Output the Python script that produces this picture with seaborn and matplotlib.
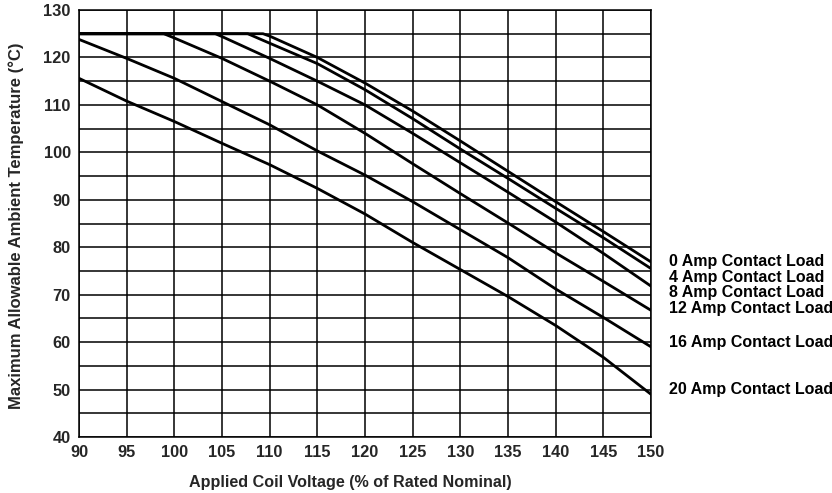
import matplotlib
matplotlib.use("Agg")
import matplotlib.pyplot as plt
import matplotlib.transforms as mtransforms
import pandas as pd
import seaborn as sns

# ---------------- data ----------------
loads = ["0 Amp Contact Load", "4 Amp Contact Load", "8 Amp Contact Load",
         "12 Amp Contact Load", "16 Amp Contact Load", "20 Amp Contact Load"]

volt_0A = [90, 109.3, 110, 115, 120, 125, 130, 135, 140, 145, 150]
temp_0A = [125, 125, 124.5, 120.0, 114.6, 108.7, 102.4, 96.0, 89.6, 83.3, 76.9]

volt_4A = [90, 107.7, 110, 115, 120, 125, 130, 135, 140, 145, 150]
temp_4A = [125, 125, 123.0, 118.7, 113.2, 107.1, 100.7, 94.5, 88.2, 82.0, 75.5]

volt_8A = [90, 104.3, 105, 110, 115, 120, 125, 130, 135, 140, 145, 150]
temp_8A = [125, 125, 124.4, 119.8, 115.0, 110.0, 104.0, 97.8, 91.6, 85.3, 78.7, 71.8]

volt_12A = [90, 98.9, 100, 105, 110, 115, 120, 125, 130, 135, 140, 145, 150]
temp_12A = [125, 125, 124.1, 119.8, 115.0, 110.0, 104.0, 97.6, 91.3, 85.1, 78.8, 72.8, 66.7]

volt_16A = [90, 95, 100, 105, 110, 115, 120, 125, 130, 135, 140, 145, 150]
temp_16A = [123.8, 119.8, 115.6, 110.7, 105.8, 100.3, 95.2, 89.6, 83.7, 77.8, 71.2, 65.2, 59.0]

volt_20A = [90, 95, 100, 105, 110, 115, 120, 125, 130, 135, 140, 145, 150]
temp_20A = [115.6, 110.8, 106.5, 101.9, 97.4, 92.4, 87.0, 81.0, 75.3, 69.6, 63.5, 56.8, 49.0]

x_ticks = [90, 95, 100, 105, 110, 115, 120, 125, 130, 135, 140, 145, 150]
y_ticks = [40, 50, 60, 70, 80, 90, 100, 110, 120, 130]
y_minor = [45, 55, 65, 75, 85, 95, 105, 115, 125]

x_title = "Applied Coil Voltage (% of Rated Nominal)"
y_title = "Maximum Allowable Ambient Temperature (°C)"

# ---------------- layout ----------------
label_y = [76.9, 73.7, 70.4, 67.0, 60.0, 50.1]

series = [(volt_0A, temp_0A), (volt_4A, temp_4A), (volt_8A, temp_8A),
          (volt_12A, temp_12A), (volt_16A, temp_16A), (volt_20A, temp_20A)]
frames = []
for name, (v, t) in zip(loads, series):
    frames.append(pd.DataFrame({"volt": v, "temp": t, "load": name}))
df = pd.concat(frames, ignore_index=True)

sns.set_theme(style="white")
plt.rcParams["font.family"] = ["Liberation Sans", "DejaVu Sans"]

W, H = 832, 493
fig = plt.figure(figsize=(W / 100, H / 100), dpi=100)
L, R, T, B = 79, 651, 10, 437
ax = fig.add_axes([L / W, 1 - B / H, (R - L) / W, (B - T) / H])

sns.lineplot(data=df, x="volt", y="temp", hue="load", hue_order=loads,
             palette=["black"] * len(loads), sort=False, estimator=None,
             linewidth=2.0, legend=False, ax=ax, zorder=3)

ax.set_xlim(90, 150)
ax.set_ylim(40, 130)
ax.set_xticks(x_ticks)
ax.set_yticks(y_ticks)
ax.set_yticks(y_minor, minor=True)
ax.grid(which="both", axis="both", color="black", linewidth=1.1)
ax.set_axisbelow(True)
ax.tick_params(which="both", length=0)
ax.tick_params(axis="x", pad=6, labelsize=11.8)
ax.tick_params(axis="y", pad=6, labelsize=11.8)
for lab in ax.get_xticklabels() + ax.get_yticklabels():
    lab.set_fontweight("bold")
for s in ax.spines.values():
    s.set_color("black")
    s.set_linewidth(1.1)

ax.set_xlabel(x_title, fontsize=11.6, fontweight="bold")
ax.xaxis.set_label_coords((350.5 - L) / (R - L), (B - 483) / (B - T))
ax.xaxis.label.set_va("center")
ax.set_ylabel(y_title, fontsize=12, fontweight="bold")
ax.yaxis.set_label_coords((16 - L) / (R - L), (B - 226) / (B - T))
ax.yaxis.label.set_va("center")

trans = mtransforms.blended_transform_factory(ax.transAxes, ax.transData)
for name, yv in zip(loads, label_y):
    ax.text((669 - L) / (R - L), yv, name, transform=trans, ha="left",
            va="center", fontsize=11.5, fontweight="bold", color="black",
            clip_on=False)

fig.savefig("out.png", dpi=100)
